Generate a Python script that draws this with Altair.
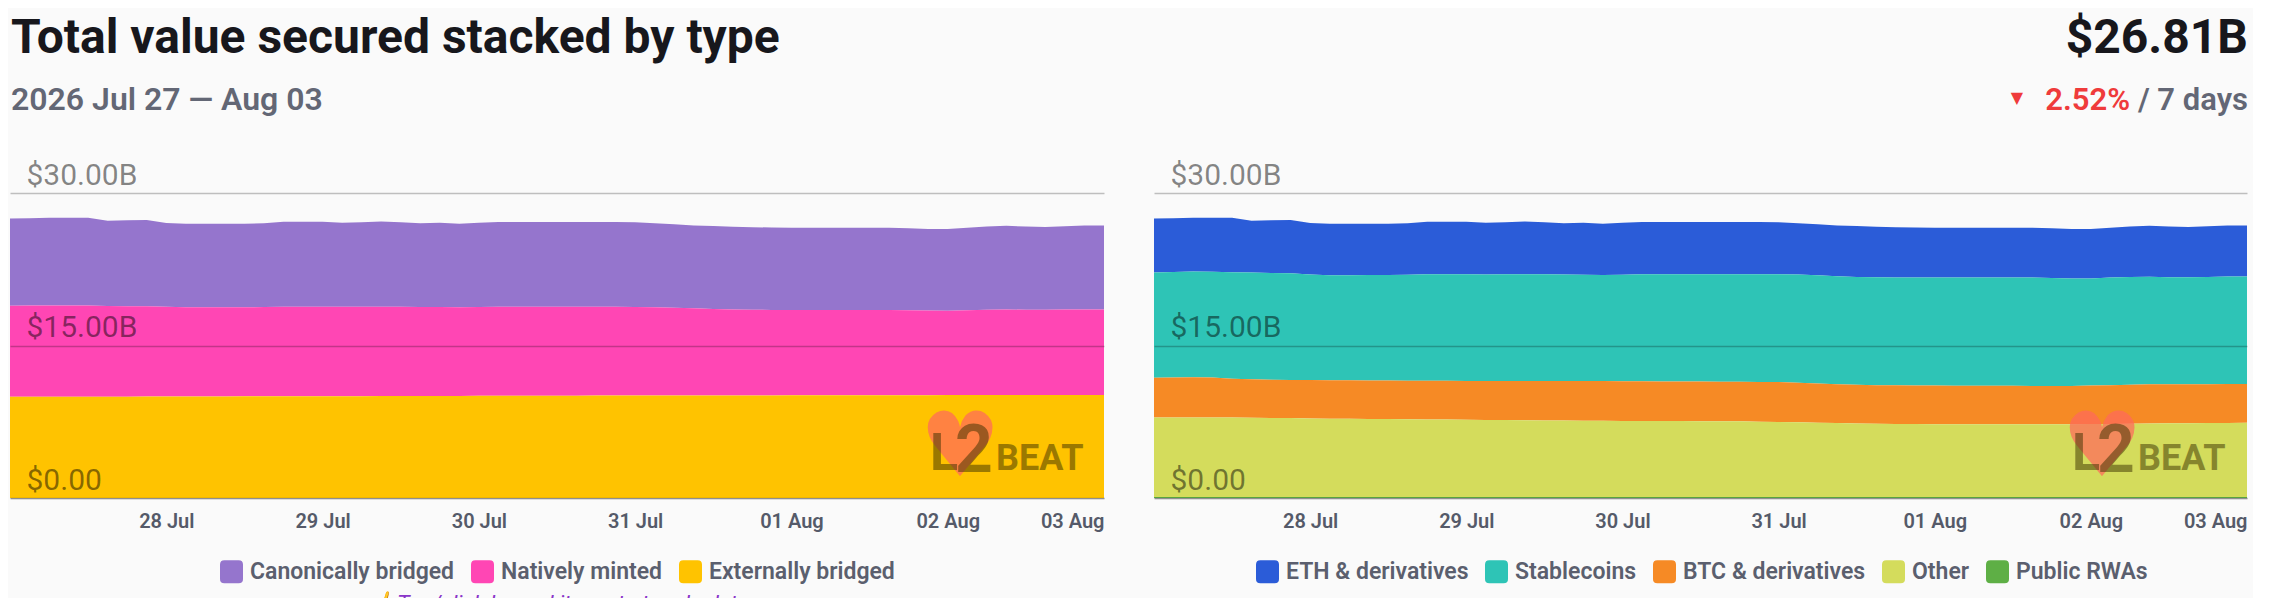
import altair as alt
import pandas as pd

# ---------------- data (values in $B, every 3 hours, 2026-07-27 00:00 -> 2026-08-03 00:00)
TIMES = [t.strftime("%Y-%m-%dT%H:%M:%S") for t in pd.date_range("2026-07-27 00:00", "2026-08-03 00:00", freq="3h")]

# left chart: by bridging type
CANONICALLY_BRIDGED = [8.58, 8.59, 8.63, 8.63, 8.64, 8.39, 8.45, 8.49, 8.24, 8.21, 8.21, 8.21, 8.21, 8.24, 8.35, 8.35,
                       8.35, 8.27, 8.31, 8.37, 8.31, 8.23, 8.28, 8.20, 8.28, 8.34, 8.34, 8.34, 8.34, 8.34, 8.34, 8.34,
                       8.33, 8.26, 8.20, 8.15, 8.15, 8.13, 8.11, 8.11, 8.10, 8.10, 8.10, 8.10, 8.10, 8.10, 8.07, 8.01,
                       8.02, 8.11, 8.18, 8.24, 8.18, 8.14, 8.20, 8.26, 8.26]
NATIVELY_MINTED = [8.97, 8.98, 8.98, 8.98, 8.97, 8.91, 8.90, 8.88, 8.82, 8.77, 8.77, 8.77, 8.76, 8.78, 8.81, 8.81,
                   8.80, 8.78, 8.79, 8.79, 8.78, 8.75, 8.75, 8.73, 8.74, 8.75, 8.75, 8.74, 8.74, 8.74, 8.73, 8.73,
                   8.72, 8.68, 8.64, 8.58, 8.51, 8.46, 8.43, 8.41, 8.38, 8.38, 8.38, 8.38, 8.37, 8.37, 8.35, 8.33,
                   8.31, 8.35, 8.40, 8.42, 8.40, 8.39, 8.41, 8.43, 8.43]
EXTERNALLY_BRIDGED = [9.95, 9.95, 9.96, 9.96, 9.96, 9.97, 9.97, 9.98, 9.98, 9.99, 9.99, 9.99, 10.00, 10.00, 10.01, 10.01,
                      10.02, 10.02, 10.02, 10.03, 10.03, 10.04, 10.04, 10.04, 10.05, 10.05, 10.05, 10.06, 10.06, 10.06,
                      10.07, 10.07, 10.07, 10.08, 10.08, 10.08, 10.09, 10.09, 10.09, 10.09, 10.10, 10.10, 10.10, 10.10,
                      10.11, 10.11, 10.11, 10.11, 10.12, 10.12, 10.12, 10.12, 10.12, 10.12, 10.12, 10.12, 10.12]

# right chart: by token type
ETH_DERIVATIVES = [5.33, 5.30, 5.30, 5.31, 5.37, 5.10, 5.19, 5.24, 5.06, 5.05, 5.05, 5.04, 5.03, 5.05, 5.15, 5.15,
                   5.15, 5.08, 5.12, 5.17, 5.12, 5.04, 5.12, 5.04, 5.10, 5.14, 5.13, 5.12, 5.12, 5.12, 5.12, 5.12,
                   5.10, 5.04, 5.02, 4.99, 5.00, 4.96, 4.93, 4.92, 4.90, 4.90, 4.90, 4.90, 4.90, 4.90, 4.89, 4.87,
                   4.85, 4.88, 4.96, 5.02, 4.98, 4.93, 4.98, 5.03, 5.03]
STABLECOINS = [10.34, 10.37, 10.40, 10.40, 10.46, 10.50, 10.49, 10.50, 10.38, 10.34, 10.35, 10.37, 10.39, 10.43, 10.49,
               10.49, 10.50, 10.47, 10.49, 10.51, 10.49, 10.48, 10.45, 10.43, 10.48, 10.52, 10.54, 10.56, 10.57, 10.58,
               10.59, 10.60, 10.62, 10.64, 10.63, 10.62, 10.62, 10.62, 10.62, 10.62, 10.62, 10.63, 10.64, 10.65, 10.65,
               10.66, 10.63, 10.56, 10.54, 10.60, 10.59, 10.58, 10.53, 10.52, 10.55, 10.57, 10.57]
BTC_DERIVATIVES = [3.91, 3.92, 3.94, 3.93, 3.82, 3.77, 3.76, 3.75, 3.78, 3.78, 3.78, 3.78, 3.78, 3.79, 3.80, 3.81,
                   3.82, 3.84, 3.85, 3.87, 3.88, 3.88, 3.90, 3.91, 3.91, 3.90, 3.90, 3.89, 3.89, 3.88, 3.89, 3.91,
                   3.92, 3.90, 3.87, 3.83, 3.79, 3.79, 3.79, 3.80, 3.80, 3.79, 3.78, 3.77, 3.77, 3.76, 3.75, 3.76,
                   3.79, 3.81, 3.84, 3.85, 3.84, 3.84, 3.83, 3.83, 3.82]
OTHER = [7.82, 7.83, 7.83, 7.83, 7.82, 7.80, 7.78, 7.76, 7.72, 7.70, 7.69, 7.68, 7.67, 7.65, 7.63, 7.62,
         7.60, 7.58, 7.56, 7.54, 7.53, 7.52, 7.50, 7.49, 7.48, 7.48, 7.47, 7.47, 7.46, 7.46, 7.44, 7.41,
         7.38, 7.34, 7.30, 7.27, 7.24, 7.21, 7.19, 7.17, 7.16, 7.16, 7.16, 7.16, 7.16, 7.16, 7.16, 7.16,
         7.17, 7.19, 7.21, 7.23, 7.25, 7.26, 7.27, 7.28, 7.29]
PUBLIC_RWAS = [0.10] * 57

LEFT_NAMES = ["Canonically bridged", "Natively minted", "Externally bridged"]
LEFT_COLORS = ["#9575CD", "#FF46B4", "#FFC300"]
RIGHT_NAMES = ["ETH & derivatives", "Stablecoins", "BTC & derivatives", "Other", "Public RWAs"]
RIGHT_COLORS = ["#2B5CD8", "#2EC4B6", "#F68A25", "#D4DC5C", "#5EAF45"]

Y_TICKS = [0, 15, 30]
X_TICK_DAYS = [(7, 28), (7, 29), (7, 30), (7, 31), (8, 1), (8, 2), (8, 3)]

TITLE = "Total value secured stacked by type"
SUBTITLE = "2026 Jul 27 \u2014 Aug 03"
TOTAL_TEXT = "$26.81B"
CHANGE_TEXT = "2.52%"
PERIOD_TEXT = " / 7 days"
HINT_TEXT = "\u261D Tap/click legend items to toggle data"


def long_table(names, series):
    rows = []
    # legend order is top-to-bottom; stacking rank 0 is the bottom layer
    n = len(names)
    for k, (name, vals) in enumerate(zip(names, series)):
        for t, v in zip(TIMES, vals):
            rows.append({"time": t, "series": name, "value": v, "rank": n - 1 - k})
    return pd.DataFrame(rows)


left_df = long_table(LEFT_NAMES, [CANONICALLY_BRIDGED, NATIVELY_MINTED, EXTERNALLY_BRIDGED])
right_df = long_table(RIGHT_NAMES, [ETH_DERIVATIVES, STABLECOINS, BTC_DERIVATIVES, OTHER, PUBLIC_RWAS])
one = pd.DataFrame({"k": [0]})

W_L, W_R, H = 1094, 1093, 305
FONT = "Roboto"
ROUND_RECT = ("M -0.62,-1 L 0.62,-1 Q 1,-1 1,-0.62 L 1,0.62 Q 1,1 0.62,1 L -0.62,1 "
              "Q -1,1 -1,0.62 L -1,-0.62 Q -1,-1 -0.62,-1 Z")


def x_enc():
    return alt.X(
        "time:T",
        scale=alt.Scale(domain=[alt.DateTime(year=2026, month=7, date=27),
                                alt.DateTime(year=2026, month=8, date=3)]),
        axis=alt.Axis(
            values=[alt.DateTime(year=2026, month=m, date=d) for m, d in X_TICK_DAYS],
            format="%d %b", labelFlush=True, labelOverlap=False, ticks=False, grid=False,
            domain=True, domainColor="#bdbdbd", domainWidth=1.5,
            labelFont=FONT, labelFontSize=20, labelFontWeight=600, labelColor="#555a69",
            labelPadding=13, title=None),
    )


def y_enc():
    return alt.Y(
        "value:Q", stack="zero",
        scale=alt.Scale(domain=[0, 30], nice=False, zero=True),
        axis=alt.Axis(
            values=Y_TICKS,
            labelExpr="'$' + format(datum.value, '.2f') + (datum.value > 0 ? 'B' : '')",
            domain=False, ticks=False, tickSize=0, grid=True, gridColor="#000000",
            gridOpacity=0.24, gridWidth=1.6, labelAlign="left", labelBaseline="alphabetic",
            labelPadding=-16, labelOffset=-9, labelFont=FONT, labelFontSize=30,
            labelColor="#000000", labelOpacity=0.48, labelFlush=False, labelOverlap=False,
            title=None, zindex=1),
    )


def legend(x):
    return alt.Legend(
        orient="none", legendX=x, legendY=367, direction="horizontal", title=None,
        symbolType=ROUND_RECT, symbolSize=529, symbolStrokeWidth=0, symbolOpacity=1,
        labelFont=FONT, labelFontSize=23, labelFontWeight=600, labelColor="#5b5f6e",
        labelOffset=7, columnPadding=16, padding=0, labelLimit=500)


def areas(df, names, colors, lx):
    return alt.Chart(df).mark_area(interpolate="linear").encode(
        x=x_enc(), y=y_enc(),
        color=alt.Color("series:N", scale=alt.Scale(domain=names, range=colors), legend=legend(lx)),
        order=alt.Order("rank:Q", sort="ascending"),
    )


def txt(text, x, y, size, color, align="left", weight="normal", style="normal",
        font=FONT, opacity=1.0, baseline="alphabetic"):
    return alt.Chart(one).mark_text(
        text=text, align=align, baseline=baseline, font=font, fontSize=size,
        fontWeight=weight, fontStyle=style, color=color, opacity=opacity,
    ).encode(x=alt.value(x), y=alt.value(y))


def logo(x0):
    ink = "#3a3000"
    return [
        txt("\u2665", x0 + 30, 256, 90, "#ff6a5c", align="center", font="DejaVu Sans",
            opacity=0.72, baseline="middle"),
        txt("L", x0, 277, 52, ink, weight="bold", opacity=0.5),
        txt("2", x0 + 25, 279, 66, ink, weight="bold", opacity=0.5),
        txt("BEAT", x0 + 66, 277, 36, ink, weight="bold", opacity=0.5),
    ]


left = alt.layer(
    areas(left_df, LEFT_NAMES, LEFT_COLORS, 210),
    *logo(920),
    txt(TITLE, 1, -140, 48, "#17171c", weight="bold"),
    txt(SUBTITLE, 1, -83, 32, "#636775", weight=600),
    txt(HINT_TEXT, 547, 418, 22, "#8a35c9", align="center", style="italic"),
).properties(width=W_L, height=H)

right = alt.layer(
    areas(right_df, RIGHT_NAMES, RIGHT_COLORS, 102),
    *logo(918),
    txt(TOTAL_TEXT, 1094, -140, 48, "#17171c", align="right", weight="bold"),
    txt(PERIOD_TEXT, 1094, -83, 31, "#636775", align="right", weight=600),
    txt(CHANGE_TEXT, 976, -83, 31, "#ef3b3b", align="right", weight=600),
    txt("\u25BC", 863, -90, 16, "#ef3b3b", align="center", font="DejaVu Sans"),
).properties(width=W_R, height=H)

chart = alt.hconcat(left, right, spacing=50).resolve_scale(
    color="independent"
).resolve_legend(color="independent").properties(
    padding={"left": 2, "top": 7, "right": 5, "bottom": 5},
    background="#fafafa",
).configure_view(stroke=None)

chart.save("out.html", embed_options={"renderer": "svg", "actions": False})
